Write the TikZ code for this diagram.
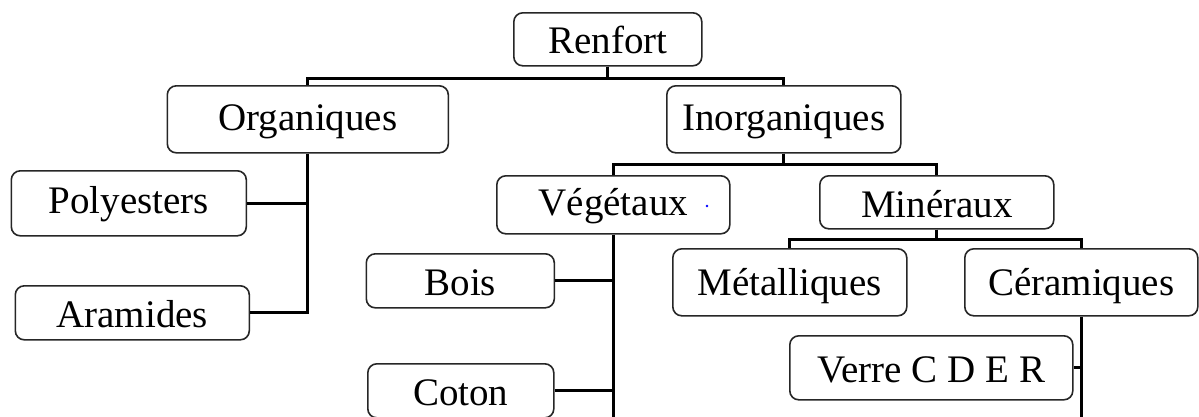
\documentclass[tikz,border=0pt]{standalone}
\usepackage{fontspec}
\setmainfont{Liberation Serif}
\begin{document}
\begin{tikzpicture}[x=1pt,y=-1pt,
  box/.style={draw=black!85, line width=1.6pt, rounded corners=9pt,
    inner sep=0pt, anchor=north west, font=\fontsize{39}{47}\selectfont},
  link/.style={line width=3pt, black}]
\clip (0,0) rectangle (1199,416);
\fill[white] (0,0) rectangle (1199,416);

% boxes: top-left corner, width, height above / below baseline
\node[box, minimum width=188pt, text height=41pt, text depth=12pt] (ren) at (513,12) {Renfort};
\node[box, minimum width=281pt, text height=45pt, text depth=22pt] (org) at (166.5,85) {Organiques};
\node[box, minimum width=234pt, text height=45pt, text depth=22pt] (inorg) at (666,85) {Inorganiques};
\node[box, minimum width=235pt, text height=43pt, text depth=22pt] (poly) at (10.5,170) {Polyesters};
\node[box, minimum width=234pt, text height=42pt, text depth=12pt] (ara) at (14.5,285) {Aramides};
\node[box, minimum width=233pt, text height=40pt, text depth=18pt] (veg) at (496,175) {Végétaux};
\node[box, minimum width=234pt, text height=42pt, text depth=11pt] (min) at (819,175) {Minéraux};
\node[box, minimum width=234pt, text height=47pt, text depth=20pt] (met) at (672,248) {Métalliques};
\node[box, minimum width=233pt, text height=47pt, text depth=20pt] (cer) at (964,248) {Céramiques};
\node[box, minimum width=188pt, text height=42pt, text depth=12pt] (bois) at (365.5,253) {Bois};
\node[box, minimum width=186pt, text height=42pt, text depth=12pt] (coton) at (367,363) {Coton};
\node[box, minimum width=283pt, text height=47pt, text depth=17pt] (verre) at (789,335) {Verre C D E R};

% stray mark inside the Végétaux box
\fill[blue] (707,206) circle (1.3);

% open ends of the two long trunks
\coordinate (vegend) at (veg.south |- 0,430);
\coordinate (cerend) at (cer.south |- 0,430);

% Renfort
\draw[link] (ren.south) -- ++(0,12) -| (org.north);
\draw[link] (ren.south) -- ++(0,12) -| (inorg.north);
% Organiques
\draw[link] (org.south) -- (org.south |- ara.east) -- (ara.east);
\draw[link] (poly.east) -- (poly.east -| org.south);
% Inorganiques
\draw[link] (inorg.south) -- ++(0,11) -| (veg.north);
\draw[link] (inorg.south) -- ++(0,11) -| (min.north);
% Minéraux
\draw[link] (min.south) -- ++(0,10) -| (met.north);
\draw[link] (min.south) -- ++(0,10) -| (cer.north);
% Végétaux
\draw[link] (veg.south) -- (vegend);
\draw[link] (bois.east) -- (bois.east -| veg.south);
\draw[link] (coton.east) -- (coton.east -| veg.south);
% Céramiques
\draw[link] (cer.south) -- (cerend);
\draw[link] (verre.east) -- (verre.east -| cer.south);
\end{tikzpicture}
\end{document}
